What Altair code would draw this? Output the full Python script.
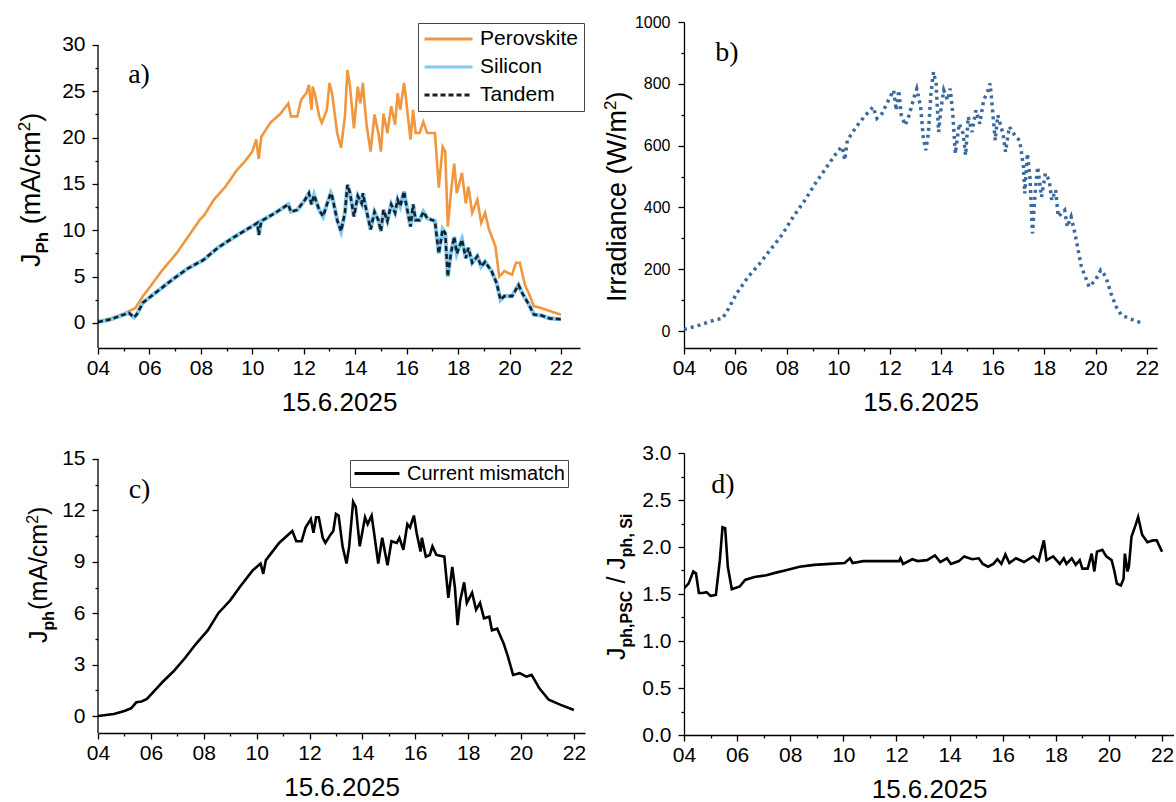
import altair as alt
import pandas as pd

FONT = "Liberation Sans, Arial, sans-serif"
SERIF = "Liberation Serif, Times New Roman, serif"

# ---------------- data (hour of day, value) ----------------
PEROVSKITE = [(4.0, 0.2), (4.5, 0.5), (5.0, 1.0), (5.3, 1.4), (5.45, 1.6), (5.75, 2.9), (6.05, 4.0),
              (6.5, 5.7), (7.05, 7.5), (7.5, 9.3), (7.95, 11.1), (8.15, 11.7), (8.5, 13.3), (8.95, 14.7),
              (9.4, 16.5), (9.7, 17.4), (10.0, 18.5), (10.15, 19.8), (10.25, 17.7), (10.35, 20.1),
              (10.7, 21.6), (11.1, 22.6), (11.4, 23.7), (11.5, 22.3), (11.75, 22.3), (11.9, 24.1),
              (12.1, 24.8), (12.2, 25.7), (12.3, 23.0), (12.35, 25.5), (12.45, 24.5), (12.6, 22.3),
              (12.7, 21.6), (12.9, 23.0), (13.0, 25.9), (13.1, 24.8), (13.3, 20.5), (13.45, 18.9),
              (13.6, 22.3), (13.7, 27.3), (13.8, 25.5), (13.95, 21.0), (14.1, 25.5), (14.2, 23.7),
              (14.3, 25.9), (14.35, 24.1), (14.45, 21.2), (14.6, 18.5), (14.75, 22.5), (14.9, 20.5),
              (15.0, 18.5), (15.1, 22.6), (15.25, 20.5), (15.4, 23.4), (15.55, 21.4), (15.65, 24.8),
              (15.75, 23.0), (15.9, 25.9), (15.95, 24.8), (16.15, 19.8), (16.25, 23.0), (16.35, 20.5),
              (16.5, 20.5), (16.65, 21.7), (16.8, 20.5), (17.1, 20.5), (17.25, 14.6), (17.4, 19.0),
              (17.5, 18.5), (17.6, 10.4), (17.72, 14.0), (17.85, 17.2), (17.95, 14.0), (18.15, 16.2),
              (18.3, 12.9), (18.4, 14.7), (18.55, 11.9), (18.75, 13.3), (18.9, 10.8), (19.05, 11.9),
              (19.2, 10.1), (19.45, 8.3), (19.6, 5.0), (19.8, 5.6), (20.1, 5.2), (20.25, 6.5),
              (20.4, 6.5), (20.6, 4.1), (20.75, 3.2), (20.95, 1.8), (21.25, 1.6), (21.55, 1.3), (22.0, 0.9)]

SILICON = [(4.0, 0.1), (4.5, 0.4), (5.0, 0.9), (5.2, 1.1), (5.4, 0.6), (5.5, 0.9), (5.75, 2.2),
           (6.3, 3.4), (6.9, 4.7), (7.5, 5.9), (8.1, 6.8), (8.65, 8.1), (9.25, 9.2), (9.85, 10.2),
           (10.2, 10.8), (10.25, 9.5), (10.35, 11.0), (10.9, 11.9), (11.4, 12.8), (11.5, 12.0),
           (11.75, 12.2), (12.05, 13.3), (12.2, 14.0), (12.3, 12.8), (12.4, 13.8), (12.6, 12.2),
           (12.75, 11.5), (12.9, 12.8), (13.05, 14.0), (13.1, 13.7), (13.3, 11.1), (13.45, 9.9),
           (13.6, 11.9), (13.7, 14.9), (13.8, 14.0), (13.95, 11.5), (14.1, 13.7), (14.25, 12.9),
           (14.3, 14.0), (14.4, 12.6), (14.6, 10.1), (14.75, 12.0), (14.9, 11.1), (15.0, 9.9),
           (15.1, 12.2), (15.25, 11.0), (15.4, 12.8), (15.55, 11.9), (15.65, 13.3), (15.75, 12.6),
           (15.9, 14.2), (15.95, 13.3), (16.15, 10.4), (16.25, 12.8), (16.35, 11.1), (16.5, 11.1),
           (16.65, 12.0), (16.8, 11.3), (17.1, 11.0), (17.25, 7.5), (17.4, 10.1), (17.5, 9.7),
           (17.6, 5.0), (17.72, 7.5), (17.85, 9.3), (17.95, 7.5), (18.15, 9.0), (18.3, 7.0),
           (18.4, 8.1), (18.55, 6.5), (18.75, 7.2), (18.9, 6.1), (19.05, 6.6), (19.3, 5.6),
           (19.5, 4.3), (19.65, 2.5), (19.8, 2.9), (20.1, 2.9), (20.35, 4.1), (20.5, 3.2),
           (20.75, 2.0), (20.95, 0.9), (21.25, 0.8), (21.55, 0.5), (22.0, 0.4)]

TANDEM = [(4.0, 0.1), (4.5, 0.4), (5.0, 0.9), (5.2, 1.1), (5.4, 0.6), (5.5, 0.9), (5.75, 2.2),
          (6.3, 3.4), (6.9, 4.7), (7.5, 5.9), (8.1, 6.8), (8.65, 8.1), (9.25, 9.2), (9.85, 10.2),
          (10.2, 10.8), (10.25, 9.5), (10.35, 11.0), (10.9, 11.9), (11.4, 12.8), (11.5, 12.0),
          (11.75, 12.2), (12.05, 13.3), (12.2, 14.0), (12.3, 12.8), (12.4, 13.8), (12.6, 12.2),
          (12.75, 11.5), (12.9, 12.8), (13.05, 14.0), (13.1, 13.7), (13.3, 11.1), (13.45, 9.9),
          (13.6, 11.9), (13.7, 14.9), (13.8, 14.0), (13.95, 11.5), (14.1, 13.7), (14.25, 12.9),
          (14.3, 14.0), (14.4, 12.6), (14.6, 10.1), (14.75, 12.0), (14.9, 11.1), (15.0, 9.9),
          (15.1, 12.2), (15.25, 11.0), (15.4, 12.8), (15.55, 11.9), (15.65, 13.3), (15.75, 12.6),
          (15.9, 14.2), (15.95, 13.3), (16.15, 10.4), (16.25, 12.8), (16.35, 11.1), (16.5, 11.1),
          (16.65, 12.0), (16.8, 11.3), (17.1, 11.0), (17.25, 7.5), (17.4, 10.1), (17.5, 9.7),
          (17.6, 5.0), (17.72, 7.5), (17.85, 9.3), (17.95, 7.5), (18.15, 9.0), (18.3, 7.0),
          (18.4, 8.1), (18.55, 6.5), (18.75, 7.2), (18.9, 6.1), (19.05, 6.6), (19.3, 5.6),
          (19.5, 4.3), (19.65, 2.5), (19.8, 2.9), (20.1, 2.9), (20.35, 4.1), (20.5, 3.2),
          (20.75, 2.0), (20.95, 0.9), (21.25, 0.8), (21.55, 0.5), (22.0, 0.4)]

IRRADIANCE = [(4.0, 5), (4.6, 19), (5.2, 36), (5.5, 41), (5.7, 68), (6.05, 122), (6.5, 176), (6.95, 219),
              (7.35, 262), (7.8, 310), (8.25, 370), (8.7, 423), (9.1, 477), (9.55, 531), (10.0, 585),
              (10.15, 596), (10.25, 553), (10.35, 617), (10.7, 661), (11.0, 693), (11.35, 725),
              (11.5, 688), (11.7, 704), (11.95, 747), (12.15, 779), (12.25, 714), (12.35, 779),
              (12.45, 698), (12.6, 666), (12.75, 698), (12.95, 758), (13.05, 784), (13.2, 725),
              (13.3, 628), (13.4, 585), (13.5, 639), (13.6, 768), (13.7, 838), (13.8, 801), (13.9, 644),
              (14.0, 725), (14.1, 779), (14.25, 747), (14.35, 784), (14.45, 704), (14.55, 574),
              (14.7, 671), (14.85, 639), (14.95, 569), (15.05, 693), (15.2, 644), (15.35, 714),
              (15.5, 671), (15.65, 747), (15.8, 774), (15.9, 801), (15.95, 758), (16.1, 617),
              (16.2, 698), (16.4, 639), (16.5, 580), (16.65, 661), (16.9, 628), (17.05, 617),
              (17.2, 531), (17.25, 445), (17.35, 574), (17.45, 499), (17.55, 316), (17.65, 445),
              (17.75, 531), (17.9, 434), (18.05, 510), (18.2, 488), (18.3, 423), (18.45, 456),
              (18.55, 370), (18.8, 391), (18.9, 337), (19.05, 370), (19.2, 316), (19.35, 251),
              (19.45, 208), (19.6, 176), (19.75, 143), (20.0, 165), (20.2, 197), (20.4, 176),
              (20.6, 122), (20.8, 79), (21.0, 52), (21.3, 41), (21.75, 27)]

MISMATCH = [(4.0, 0.0), (4.6, 0.12), (5.0, 0.3), (5.25, 0.45), (5.45, 0.8), (5.65, 0.85), (5.85, 1.0),
            (6.15, 1.5), (6.45, 2.0), (6.85, 2.6), (7.3, 3.4), (7.7, 4.2), (8.15, 5.0), (8.55, 6.0),
            (9.0, 6.75), (9.4, 7.6), (9.85, 8.5), (10.15, 8.9), (10.25, 8.3), (10.35, 9.1),
            (10.85, 10.1), (11.35, 10.8), (11.5, 10.2), (11.7, 10.2), (11.85, 11.0), (12.05, 11.5),
            (12.15, 10.7), (12.25, 11.6), (12.35, 11.6), (12.5, 10.4), (12.6, 10.1), (12.8, 10.6),
            (12.9, 10.8), (13.0, 11.8), (13.1, 11.7), (13.25, 9.9), (13.4, 8.9), (13.5, 9.9),
            (13.65, 12.5), (13.75, 12.2), (13.9, 9.9), (14.1, 11.6), (14.2, 11.2), (14.35, 11.7),
            (14.45, 10.6), (14.6, 8.9), (14.75, 10.4), (14.95, 8.8), (15.1, 10.2), (15.3, 10.1),
            (15.4, 10.4), (15.55, 9.7), (15.7, 11.2), (15.8, 11.0), (15.95, 11.7), (16.05, 10.7),
            (16.2, 9.6), (16.25, 10.4), (16.4, 9.3), (16.55, 9.4), (16.65, 9.9), (16.8, 9.4),
            (17.1, 9.3), (17.25, 6.9), (17.4, 8.7), (17.5, 7.5), (17.6, 5.3), (17.7, 6.75),
            (17.85, 7.8), (17.95, 6.6), (18.15, 7.2), (18.3, 6.2), (18.45, 6.6), (18.6, 5.7),
            (18.8, 5.8), (18.9, 5.0), (19.1, 5.1), (19.35, 4.2), (19.5, 3.5), (19.7, 2.4),
            (19.95, 2.5), (20.2, 2.3), (20.4, 2.4), (20.7, 1.6), (21.05, 0.95), (21.5, 0.65),
            (22.0, 0.35)]

RATIO = [(4.0, 1.56), (4.17, 1.61), (4.35, 1.74), (4.45, 1.72), (4.56, 1.51), (4.7, 1.51), (4.85, 1.52),
         (5.0, 1.48), (5.2, 1.49), (5.35, 1.86), (5.45, 2.21), (5.55, 2.2), (5.65, 1.79), (5.8, 1.55),
         (6.1, 1.58), (6.3, 1.65), (6.65, 1.68), (7.1, 1.70), (7.5, 1.73), (7.8, 1.75), (8.35, 1.79),
         (8.9, 1.81), (9.5, 1.82), (10.05, 1.83), (10.25, 1.88), (10.35, 1.83), (10.75, 1.85),
         (11.45, 1.85), (12.1, 1.85), (12.15, 1.88), (12.25, 1.82), (12.6, 1.87), (12.8, 1.85),
         (13.15, 1.86), (13.45, 1.91), (13.65, 1.84), (13.9, 1.88), (14.05, 1.82), (14.35, 1.85),
         (14.55, 1.90), (14.85, 1.87), (15.1, 1.88), (15.25, 1.82), (15.45, 1.79), (15.65, 1.82),
         (15.8, 1.87), (15.95, 1.82), (16.1, 1.92), (16.25, 1.83), (16.5, 1.88), (16.8, 1.84),
         (17.15, 1.90), (17.35, 1.85), (17.55, 2.07), (17.65, 1.86), (17.9, 1.90), (18.15, 1.82),
         (18.3, 1.88), (18.4, 1.82), (18.6, 1.88), (18.75, 1.81), (18.9, 1.86), (19.0, 1.77),
         (19.2, 1.77), (19.35, 1.93), (19.45, 1.74), (19.55, 1.95), (19.75, 1.97), (19.9, 1.90),
         (20.1, 1.86), (20.2, 1.75), (20.3, 1.61), (20.45, 1.59), (20.55, 1.66), (20.6, 1.93),
         (20.7, 1.74), (20.75, 1.79), (20.85, 2.11), (21.0, 2.23), (21.1, 2.32), (21.25, 2.13),
         (21.45, 2.05), (21.65, 2.07), (21.8, 2.07), (22.0, 1.95)]

SERIES = ["Perovskite", "Silicon", "Tandem"]
SERIES_COLORS = ["#F0963C", "#7CCBF2", "#1B1F26"]
HOUR_TICKS = list(range(4, 23))
DATE_TITLE = "15.6.2025"

ONE = pd.DataFrame({"k": [0]})


def frame(pairs, name=None):
    df = pd.DataFrame(pairs, columns=["t", "v"])
    if name is not None:
        df["s"] = name
    return df


# ---------------- axes ----------------
def x_axis():
    return alt.Axis(
        values=HOUR_TICKS,
        labelExpr="datum.value % 2 == 0 ? (datum.value < 10 ? '0' + datum.value : '' + datum.value) : ''",
        tickSize={"condition": {"test": "datum.value % 2 != 0", "value": 3}, "value": 6},
        labelFlush=False, labelOverlap=False, grid=False,
        labelFont=FONT, labelFontSize=21, labelColor="black", labelPadding=3,
        domainColor="black", tickColor="black", domainWidth=1.3, tickWidth=1.3,
        title=DATE_TITLE, titleFont=FONT, titleFontSize=26, titleFontWeight="normal",
        titleColor="black", titlePadding=11,
    )


def y_axis(values, label_expr, minor_test, font_size, pad, domain=True):
    return alt.Axis(
        values=values, labelExpr=label_expr,
        tickSize={"condition": {"test": minor_test, "value": 3}, "value": 6},
        labelFont=FONT, labelFontSize=font_size, labelColor="black", labelPadding=pad,
        labelOverlap=False, grid=False, domain=domain,
        domainColor="black", tickColor="black", domainWidth=1.3, tickWidth=1.3,
        title=None,
    )


def xenc(dmax):
    return alt.X("t:Q", scale=alt.Scale(domain=[4, dmax], nice=False, zero=False), axis=x_axis())


# ---------------- rotated composite axis titles ----------------
REG = {' ': 278, '(': 333, ')': 333, '/': 278, ',': 278, '2': 556, 'A': 667, 'C': 722, 'I': 278,
       'J': 500, 'P': 667, 'S': 667, 'W': 944, 'a': 556, 'c': 500, 'd': 556, 'e': 556, 'h': 556,
       'i': 222, 'm': 833, 'n': 556, 'p': 556, 'r': 333, 's': 500, 't': 278}
BOLD = {' ': 278, ',': 278, 'P': 667, 'S': 667, 'C': 722, 'h': 611, 'p': 611, 'i': 278}


def tw(s, size, bold=False):
    tab = BOLD if bold else REG
    return sum(tab[c] for c in s) * size / 1000.0


def vtitle(pieces, x0, y0):
    out = []
    y = y0
    for txt, size, bold, dx, gap in pieces:
        y -= gap
        out.append(
            alt.Chart(ONE).mark_text(
                text=txt, angle=270, align="left", baseline="alphabetic", font=FONT,
                fontSize=size, fontWeight="bold" if bold else "normal", color="black",
            ).encode(x=alt.value(x0 + dx), y=alt.value(y))
        )
        y -= tw(txt, size, bold)
    return out


def panel_label(txt, x, y):
    return alt.Chart(ONE).mark_text(
        text=txt, font=SERIF, fontSize=28, align="center", baseline="middle", color="black"
    ).encode(x=alt.value(x), y=alt.value(y))


def yline(top, bottom):
    return alt.Chart(ONE).mark_rule(color="black", strokeWidth=1.3).encode(
        x=alt.value(0), y=alt.value(top), y2=alt.value(bottom))


# ---------------- panel a ----------------
dfa = pd.concat([frame(PEROVSKITE, "Perovskite"), frame(SILICON, "Silicon"), frame(TANDEM, "Tandem")])
leg_a = alt.Legend(
    title=None, orient="none", legendX=320, legendY=1, symbolType="stroke", symbolSize=2304,
    symbolStrokeWidth=3, clipHeight=22, rowPadding=6, padding=5, labelFont=FONT, labelFontSize=21,
    labelColor="black", labelOffset=6, strokeColor="#444444", fillColor="white", cornerRadius=0,
)
col_a = alt.Color("s:N", scale=alt.Scale(domain=SERIES, range=SERIES_COLORS), legend=leg_a)
dash_a = alt.StrokeDash("s:N", scale=alt.Scale(domain=SERIES, range=[[1, 0], [1, 0], [5, 3]]), legend=leg_a)
ya = alt.Y("v:Q", scale=alt.Scale(domain=[-2.70, 32.48], nice=False, zero=False),
           axis=y_axis([i * 2.5 for i in range(13)], "datum.value % 5 == 0 ? '' + datum.value : ''",
                       "datum.value % 5 != 0", 21, 7, domain=False))
lines_a = []
for name, w in zip(SERIES, [2.6, 4.2, 2.6]):
    lines_a.append(
        alt.Chart(dfa).transform_filter(alt.datum.s == name).mark_line(strokeWidth=w, clip=True)
        .encode(x=xenc(22.74), y=ya, color=col_a, strokeDash=dash_a)
    )
anchor = alt.Chart(ONE).mark_point(size=1, filled=True, color="white", opacity=1).encode(
    x=alt.value(-97.5), y=alt.value(-21.5))
title_a = vtitle([("J", 27, False, 0, 0), ("Ph", 17, True, 8, 0), ("(mA/cm", 27, False, 0, 7.5),
                  ("2", 17, False, -10, 0), (")", 27, False, 0, 0)], -58, 245)
pa = alt.layer(*lines_a, yline(23, 326), panel_label("a)", 41, 53), *title_a, anchor).properties(
    width=482, height=326)

# ---------------- panel b ----------------
yb = alt.Y("v:Q", scale=alt.Scale(domain=[-55, 1000], nice=False, zero=False),
           axis=y_axis(list(range(0, 1001, 100)), "datum.value % 200 == 0 ? '' + datum.value : ''",
                       "datum.value % 200 != 0", 16, 8))
line_b = alt.Chart(frame(IRRADIANCE)).mark_line(
    color="#3A6AA0", strokeWidth=3.5, strokeDash=[3, 4], clip=True).encode(x=xenc(22.39), y=yb)
title_b = vtitle([("Irradiance (W/m", 27, False, 0, 0), ("2", 17, False, -10, 0), (")", 27, False, 0, 0)],
                 -58, 280)
pb = alt.layer(line_b, panel_label("b)", 43, 31), *title_b).properties(width=473, height=326)

# ---------------- panel c ----------------
leg_c = alt.Legend(
    title=None, orient="none", legendX=252, legendY=7, symbolType="stroke", symbolSize=2025,
    symbolStrokeWidth=3, clipHeight=21, padding=3, labelFont=FONT, labelFontSize=20,
    labelColor="black", labelOffset=6, strokeColor="#444444", fillColor="white", cornerRadius=0,
)
yc = alt.Y("v:Q", scale=alt.Scale(domain=[-0.99, 15.35], nice=False, zero=False),
           axis=y_axis([i * 1.5 for i in range(11)], "datum.value % 3 == 0 ? '' + datum.value : ''",
                       "datum.value % 3 != 0", 21, 7, domain=False))
line_c = alt.Chart(frame(MISMATCH, "Current mismatch")).mark_line(strokeWidth=2.6, clip=True).encode(
    x=xenc(22.42), y=yc,
    color=alt.Color("s:N", scale=alt.Scale(domain=["Current mismatch"], range=["black"]), legend=leg_c))
title_c = vtitle([("J", 25, False, 0, 0), ("ph", 16, True, 7, 0), ("(mA/cm", 25, False, 0, 1),
                  ("2", 16, False, -9, 0), (")", 25, False, 0, 0)], -51, 190)
pc = alt.layer(line_c, yline(6, 280), panel_label("c)", 41.5, 37), *title_c).properties(width=487, height=280)

# ---------------- panel d ----------------
yd = alt.Y("v:Q", scale=alt.Scale(domain=[0, 3.0], nice=False, zero=False),
           axis=y_axis([i * 0.25 for i in range(13)],
                       "round(datum.value * 4) % 2 == 0 ? format(datum.value, '.1f') : ''",
                       "round(datum.value * 4) % 2 != 0", 21, 7))
line_d = alt.Chart(frame(RATIO)).mark_line(color="black", strokeWidth=2.6, clip=True).encode(
    x=xenc(22.45), y=yd)
title_d = vtitle([("J", 25, False, 0, 0), ("ph,PSC", 16, True, 7, 0), ("/", 25, False, 0, 7),
                  ("J", 25, False, 0, 7), ("ph, Si", 16, True, 7, 0)], -59, 207)
pd_ = alt.layer(line_d, panel_label("d)", 39, 32), *title_d).properties(width=490, height=282)

chart = alt.concat(
    pa, pb, pc, pd_, columns=2, spacing={"row": 105, "column": 99}, bounds="flush", align="none",
).resolve_scale(
    x="independent", y="independent", color="independent", strokeDash="independent"
).configure_view(stroke=None).properties(padding=0, background="white")

chart.save("out.html", embed_options={"renderer": "svg", "actions": False})
